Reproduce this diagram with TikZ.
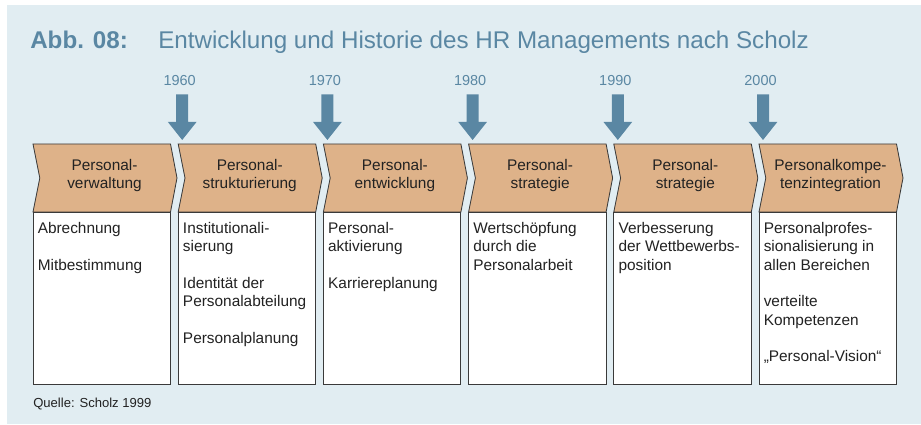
\documentclass[tikz,border=0pt]{standalone}
\usepackage{fontspec}
\setmainfont{Liberation Sans}
\usepackage{tikz}
\usetikzlibrary{positioning,calc}
\definecolor{panel}{HTML}{E1EDF2}
\definecolor{steel}{HTML}{5A87A3}
\definecolor{tan}{HTML}{DEB289}
\definecolor{edge}{HTML}{3A3A3A}
\definecolor{ink}{HTML}{222222}
\newcommand{\bodyfont}{\fontsize{10.95}{13.05}\selectfont}
\newcommand{\titlefont}{\fontsize{17.2}{20}\selectfont}
\newcommand{\yearfont}{\fontsize{10.3}{12}\selectfont}
\newcommand{\notefont}{\fontsize{9.3}{11}\selectfont}
\newcommand{\itemgap}{13.05pt}

\begin{document}
\begin{tikzpicture}[x=0.25mm,y=-0.25mm,
    font=\bodyfont, text=ink,
    chev/.style={draw=edge,fill=tan,line width=0.6pt},
    card/.style={draw=edge,fill=white,line width=0.6pt},
    headlbl/.style={align=center,inner sep=0pt},
    itemlbl/.style={anchor=north west,align=left,inner sep=0pt},
    yearlbl/.style={font=\yearfont,text=steel,anchor=base,inner sep=0pt},
    marker/.style={fill=steel}
  ]

  % panel
  \useasboundingbox (0,0) rectangle (921,425);
  \fill[panel] (7,5) rectangle (921,424);

  % heading
  \node[anchor=base west,inner sep=0pt,font=\titlefont\bfseries,text=steel] (abb) at (30,48.3) {Abb. 08:};
  \node[anchor=base west,inner sep=0pt,font=\titlefont,text=steel] (title) at (158,48.3)
    {Entwicklung und Historie des HR Managements nach Scholz};

  % phases: chevron head and card below
  \foreach \i/\head/\items in {
      0/{Personal-\\verwaltung}/{Abrechnung\\[\itemgap]Mitbestimmung},
      1/{Personal-\\strukturierung}/{Institutionali-\\sierung\\[\itemgap]Identität der\\Personalabteilung\\[\itemgap]Personalplanung},
      2/{Personal-\\entwicklung}/{Personal-\\aktivierung\\[\itemgap]Karriereplanung},
      3/{Personal-\\strategie}/{Wertschöpfung\\durch die\\Personalarbeit},
      4/{Personal-\\strategie}/{Verbesserung\\der Wettbewerbs-\\position},
      5/{Personalkompe-\\tenzintegration}/{Personalprofes-\\sionalisierung in\\allen Bereichen\\[\itemgap]verteilte\\Kompetenzen\\[\itemgap]„Personal-Vision“}} {
    \pgfmathsetmacro{\xl}{33+145.2*\i}
    \draw[chev] (\xl,144) -- ++(137.5,0) -- ++(6.5,34) -- ++(-6.5,34)
                -- ++(-137.5,0) -- ++(6.8,-34) -- cycle;
    \draw[card] (\xl,212) rectangle ++(137.5,172);
    \node[headlbl] (head\i) at (\xl+71.5,175.5) {\head};
    \node[itemlbl] (item\i) at (\xl+4.5,222) {\items};
  }

  % decade markers
  \foreach \yr [count=\k] in {1960,1970,1980,1990,2000} {
    \pgfmathsetmacro{\xc}{33+145.2*\k+4}
    \fill[marker] (\xc-6,94.5) -- (\xc+6,94.5) -- (\xc+6,122) -- (\xc+14.3,122)
                  -- (\xc,140) -- (\xc-14.3,122) -- (\xc-6,122) -- cycle;
    \node[yearlbl] (year\k) at (\xc-2.5,86) {\yr};
  }

  % source
  \node[anchor=base west,inner sep=0pt,font=\notefont] (quelle) at (33,407.5) {Quelle: Scholz 1999};

\end{tikzpicture}
\end{document}
